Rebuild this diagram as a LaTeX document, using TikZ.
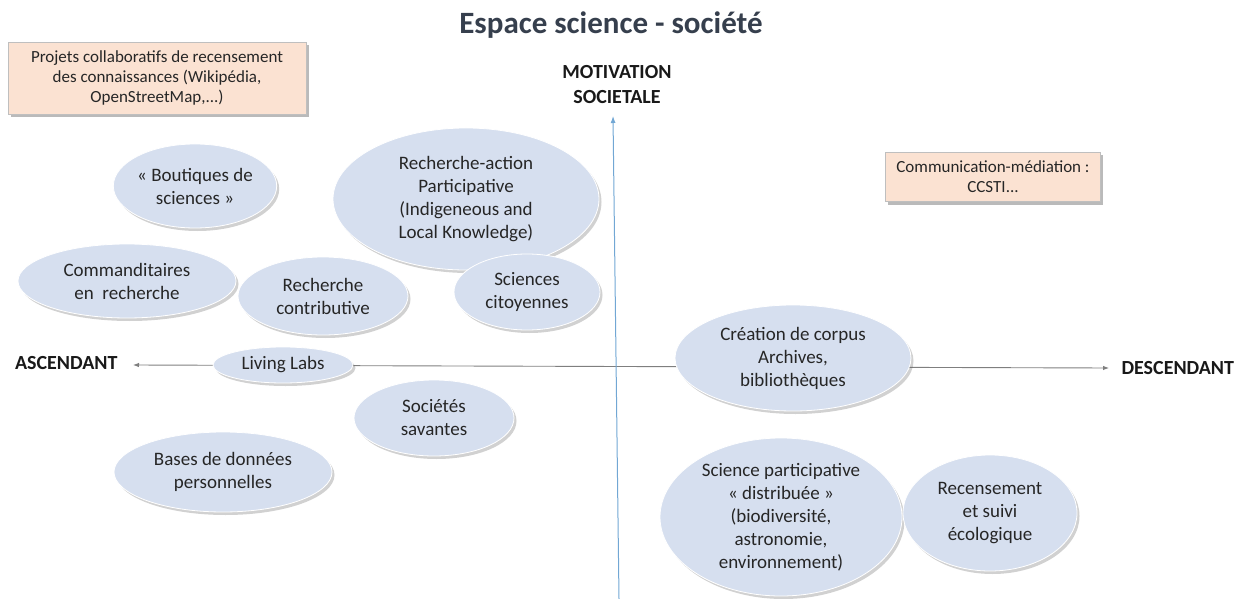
\documentclass[tikz,border=0pt]{standalone}
\usepackage{fontspec}
\setmainfont{Carlito}
\usetikzlibrary{shapes.geometric,arrows.meta,shadows}
\definecolor{ellfill}{HTML}{D6DFEF}
\definecolor{boxfill}{HTML}{FBE2D2}
\definecolor{axgray}{HTML}{7F7F7F}
\definecolor{axblue}{HTML}{72A7D4}
\definecolor{titlecol}{HTML}{363F4D}
\tikzset{
  ell/.style={ellipse, inner sep=0pt, fill=ellfill, draw=white, line width=0.8pt,
    align=center, font=\fontsize{19}{23}\selectfont, text=black!85,
    drop shadow={shadow xshift=2.5pt, shadow yshift=-3pt, opacity=0.3, fill=black!60}},
  peach/.style={rectangle, fill=boxfill, draw=black!25, line width=0.6pt, align=center,
    font=\fontsize{17}{20}\selectfont, text=black!85, inner sep=0pt,
    drop shadow={shadow xshift=2.5pt, shadow yshift=-3pt, opacity=0.45, fill=black!60}},
  axlabel/.style={font=\bfseries\fontsize{20}{25}\selectfont, align=center, text=black!90},
}
\begin{document}
\begin{tikzpicture}[x=1pt,y=-1pt]
\useasboundingbox (0,0) rectangle (1248,599);
% axes coordinates
\coordinate (axL) at (133,365);
\coordinate (axR) at (1109,368);
\coordinate (axT) at (613,116);
\coordinate (axB) at (619,599);
\draw[axgray, line width=0.9pt, {Latex[length=6pt,width=4.5pt]}-{Latex[length=6pt,width=4.5pt]}] (axL) -- (axR);
\draw[axblue, line width=1pt, -{Latex[length=7pt,width=5pt]}] (axB) -- (axT);
% title
\node[font=\bfseries\fontsize{31}{36}\selectfont, text=titlecol] (title) at (611,25) {Espace science - société};
% axis labels
\node[axlabel] (motiv) at (617,85) {MOTIVATION\\SOCIETALE};
\node[axlabel, anchor=east] (asc) at (121,363) {ASCENDANT};
\node[axlabel, anchor=west] (desc) at (1118,368) {DESCENDANT};
% boxes
\node[peach, minimum width=298pt, minimum height=72pt] (proj) at (157,78)
  {Projets collaboratifs de recensement\\des connaissances (Wikipédia,\\OpenStreetMap,...)};
\node[peach, minimum width=215pt, minimum height=49pt] (comm) at (993,177)
  {Communication-médiation :\\CCSTI...};
% ellipses
\node[ell, minimum width=160pt, minimum height=84pt] (bout) at (195,186) {« Boutiques de\\sciences »};
\node[ell, minimum width=266pt, minimum height=142pt] (rap) at (466,199) {Recherche-action\\Participative\\(Indigeneous and\\Local Knowledge)};
\node[ell, minimum width=218pt, minimum height=74pt] (comd) at (127,281) {Commanditaires\\en\ \ recherche};
\node[ell, minimum width=170pt, minimum height=78pt] (rcon) at (323,296) {Recherche\\contributive};
\node[ell, minimum width=146pt, minimum height=76pt] (scit) at (527,292) {Sciences\\citoyennes};
\node[ell, minimum width=140pt, minimum height=36pt] (ll) at (283,365) {Living Labs};
\node[ell, minimum width=236pt, minimum height=106pt] (corp) at (793,358) {Création de corpus\\Archives,\\bibliothèques};
\node[ell, minimum width=160pt, minimum height=76pt] (soc) at (434,418) {Sociétés\\savantes};
\node[ell, minimum width=218pt, minimum height=80pt] (bdd) at (223,472) {Bases de données\\personnelles};
\node[ell, minimum width=242pt, minimum height=158pt] (spd) at (781,517) {Science participative\\« distribuée »\\(biodiversité,\\astronomie,\\environnement)};
\node[ell, minimum width=174pt, minimum height=116pt] (rec) at (990,513) {Recensement\\et suivi\\écologique};
\end{tikzpicture}
\end{document}
